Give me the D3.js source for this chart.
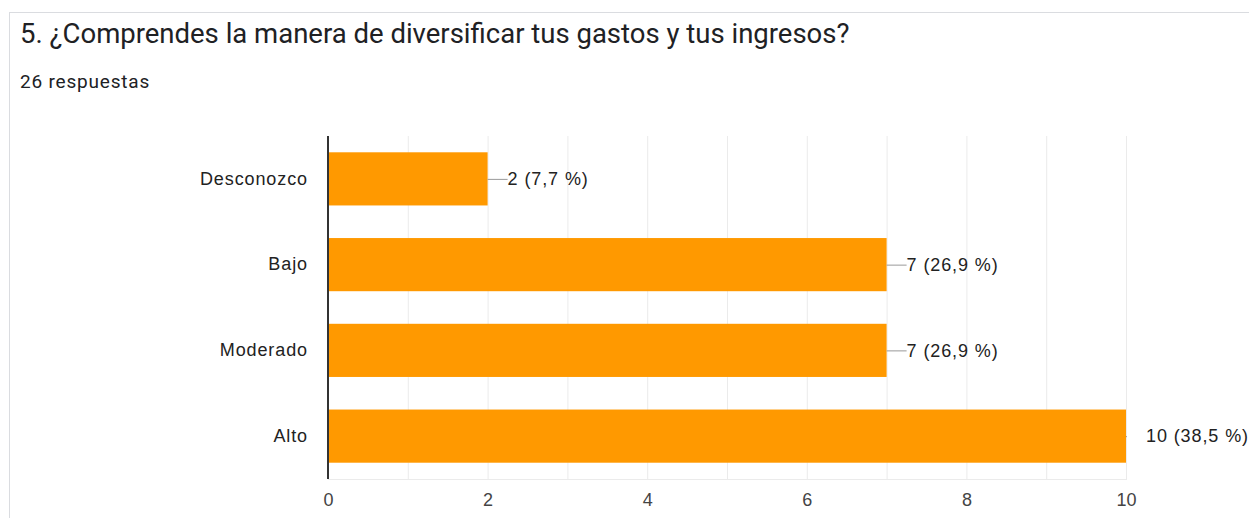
<!DOCTYPE html>
<html>
<head>
<meta charset="utf-8">
<script src="https://cdn.jsdelivr.net/npm/d3@7"></script>
<style>
  body { margin: 0; background: #fff; }
  svg { display: block; }
</style>
</head>
<body>
<script>
const WIDTH = 1249;
const HEIGHT = 518;

const categories = ["Desconozco", "Bajo", "Moderado", "Alto"];
const counts = [2, 7, 7, 10];
const percents = ["7,7", "26,9", "26,9", "38,5"];
const xTicks = [0, 2, 4, 6, 8, 10];
const TITLE = "5. ¿Comprendes la manera de diversificar tus gastos y tus ingresos?";
const SUBTITLE = "26 respuestas";

const BAR = "#ff9900";
const FONT = "Arial, 'Liberation Sans', sans-serif";
const PLOT = {left: 328, right: 1126, top: 136, bottom: 479};

//the svg and the card behind the chart
const svg = d3.select("body").append("svg")
  .attr("width", WIDTH)
  .attr("height", HEIGHT);

svg.append("rect")
  .attr("x", 9.5).attr("y", 12.5)
  .attr("width", WIDTH).attr("height", HEIGHT)
  .attr("fill", "#fff")
  .attr("stroke", "#dadce0");

svg.append("text")
  .attr("x", 20).attr("y", 43)
  .attr("font-family", "Roboto, Arial, sans-serif")
  .attr("font-size", 27.5)
  .attr("fill", "#202124")
  .text(TITLE);

svg.append("text")
  .attr("x", 20).attr("y", 88)
  .attr("font-family", "Roboto, Arial, sans-serif")
  .attr("font-size", 19)
  .attr("letter-spacing", 0.8)
  .attr("fill", "#202124")
  .text(SUBTITLE);

//scales
const x = d3.scaleLinear().domain([0, 10]).range([PLOT.left, PLOT.right]);
const y = d3.scaleBand().domain(categories)
  .range([PLOT.top, PLOT.bottom])
  .paddingInner(0.38).paddingOuter(0.19);

svg.append("defs").append("clipPath").attr("id", "plotclip")
  .append("rect")
  .attr("x", PLOT.left).attr("y", PLOT.top)
  .attr("width", PLOT.right - PLOT.left + 1)
  .attr("height", PLOT.bottom - PLOT.top);

//gridlines, one per unit
svg.append("g")
  .selectAll("line")
  .data(d3.range(1, 11))
  .join("line")
  .attr("x1", d => x(d) + 0.5).attr("x2", d => x(d) + 0.5)
  .attr("y1", PLOT.top).attr("y2", PLOT.bottom)
  .attr("stroke", "#ebebeb");

svg.append("line")
  .attr("x1", PLOT.left).attr("x2", PLOT.right + 1)
  .attr("y1", PLOT.bottom + 0.5).attr("y2", PLOT.bottom + 0.5)
  .attr("stroke", "#ebebeb");

//bars
svg.append("g")
  .selectAll("rect")
  .data(categories)
  .join("rect")
  .attr("x", x(0))
  .attr("y", d => y(d))
  .attr("width", (d, i) => x(counts[i]) - x(0))
  .attr("height", y.bandwidth())
  .attr("fill", BAR);

//leader lines, clipped to the plot
svg.append("g")
  .attr("clip-path", "url(#plotclip)")
  .selectAll("line")
  .data(categories)
  .join("line")
  .attr("x1", (d, i) => x(counts[i]))
  .attr("x2", (d, i) => x(counts[i]) + 20)
  .attr("y1", d => y(d) + y.bandwidth() / 2 + 0.5)
  .attr("y2", d => y(d) + y.bandwidth() / 2 + 0.5)
  .attr("stroke", "#999");

svg.append("g")
  .selectAll("text")
  .data(categories)
  .join("text")
  .attr("x", (d, i) => x(counts[i]) + 20)
  .attr("y", d => y(d) + y.bandwidth() / 2)
  .attr("dy", "0.35em")
  .attr("font-family", FONT)
  .attr("font-size", 18)
  .attr("letter-spacing", 0.9)
  .attr("fill", "#222")
  .text((d, i) => counts[i] + " (" + percents[i] + " %)");

//left axis with category names
const yAxis = svg.append("g")
  .attr("transform", "translate(" + PLOT.left + ",0)")
  .call(d3.axisLeft(y).tickSize(0).tickPadding(20));
yAxis.select(".domain").attr("stroke", "#333").attr("stroke-width", 2)
  .attr("d", "M0," + PLOT.top + "V" + PLOT.bottom);
yAxis.selectAll("text")
  .attr("font-family", FONT)
  .attr("font-size", 18)
  .attr("letter-spacing", 0.9)
  .attr("fill", "#222");

//bottom axis
const xAxis = svg.append("g")
  .attr("transform", "translate(0," + PLOT.bottom + ")")
  .call(d3.axisBottom(x).tickValues(xTicks).tickSize(0).tickPadding(14));
xAxis.select(".domain").remove();
xAxis.selectAll("text")
  .attr("font-family", FONT)
  .attr("font-size", 18)
  .attr("fill", "#444");
</script>
</body>
</html>
